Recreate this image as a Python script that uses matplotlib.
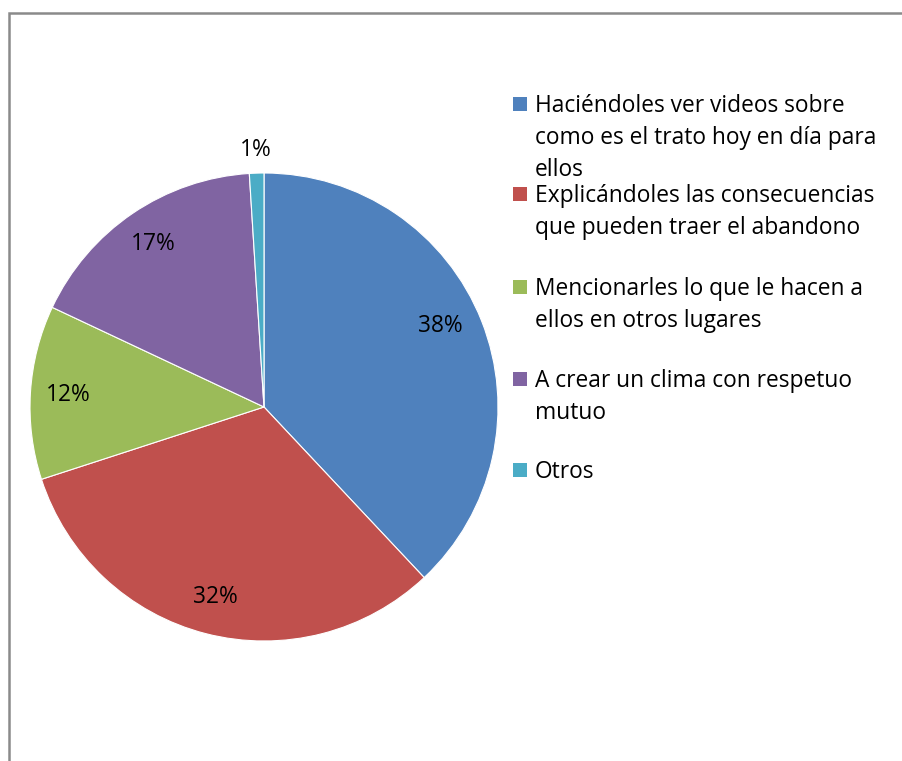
import matplotlib
matplotlib.use("Agg")
import matplotlib.pyplot as plt
from matplotlib.patches import Rectangle
import numpy as np

categories = [
    "Haciéndoles ver videos sobre\ncomo es el trato hoy en día para\nellos",
    "Explicándoles las consecuencias\nque pueden traer el abandono",
    "Mencionarles lo que le hacen a\nellos en otros lugares",
    "A crear un clima con respetuo\nmutuo",
    "Otros",
]
values = [38, 32, 12, 17, 1]
colors = ["#4F81BD", "#C0504D", "#9BBB59", "#8064A2", "#4BACC6"]

W, H = 902, 761
fig = plt.figure(figsize=(W / 100, H / 100), dpi=100)
plt.rcParams['font.family'] = ['Open Sans', 'DejaVu Sans']
FS = 16.4

cx, cy, R = 264, 407, 234
ax = fig.add_axes([(cx - R) / W, (H - cy - R) / H, 2 * R / W, 2 * R / H])
wedges, texts, autotexts = ax.pie(
    values, colors=colors, startangle=90, counterclock=False, radius=1,
    autopct=lambda p: f"{p:.0f}%", pctdistance=0.84,
    wedgeprops=dict(edgecolor="white", linewidth=0.8),
    textprops=dict(fontsize=FS, color="black"))
ax.set_xlim(-1, 1)
ax.set_ylim(-1, 1)
ax.set_aspect('auto')
# move the tiny slice label outside
w = wedges[-1]
ang = np.deg2rad((w.theta1 + w.theta2) / 2)
autotexts[-1].set_position((1.1 * np.cos(ang), 1.1 * np.sin(ang)))
# nudge first label like the original layout
w0 = wedges[0]
a0 = np.deg2rad((w0.theta1 + w0.theta2) / 2 + 3)
autotexts[0].set_position((0.83 * np.cos(a0), 0.83 * np.sin(a0)))

# frame
fig.patches.append(Rectangle((9 / W, -0.1), 2.0, (H - 13) / H + 0.1,
                             transform=fig.transFigure, fill=False,
                             edgecolor="#8a8a8a", linewidth=1.8))

# legend
sq_x = 513
sq = 14
txt_x = 535
first_base = [112, 202, 295, 387, 478]
line_h = 32
for cat, col, b in zip(categories, colors, first_base):
    fig.patches.append(Rectangle((sq_x / W, (H - b + 1) / H), sq / W, sq / H,
                                 transform=fig.transFigure, facecolor=col,
                                 edgecolor="none"))
    for i, line in enumerate(cat.split("\n")):
        fig.text(txt_x / W, (H - b - i * line_h) / H, line, fontsize=FS,
                 ha="left", va="baseline", color="black")

fig.savefig("out.png", dpi=100)
